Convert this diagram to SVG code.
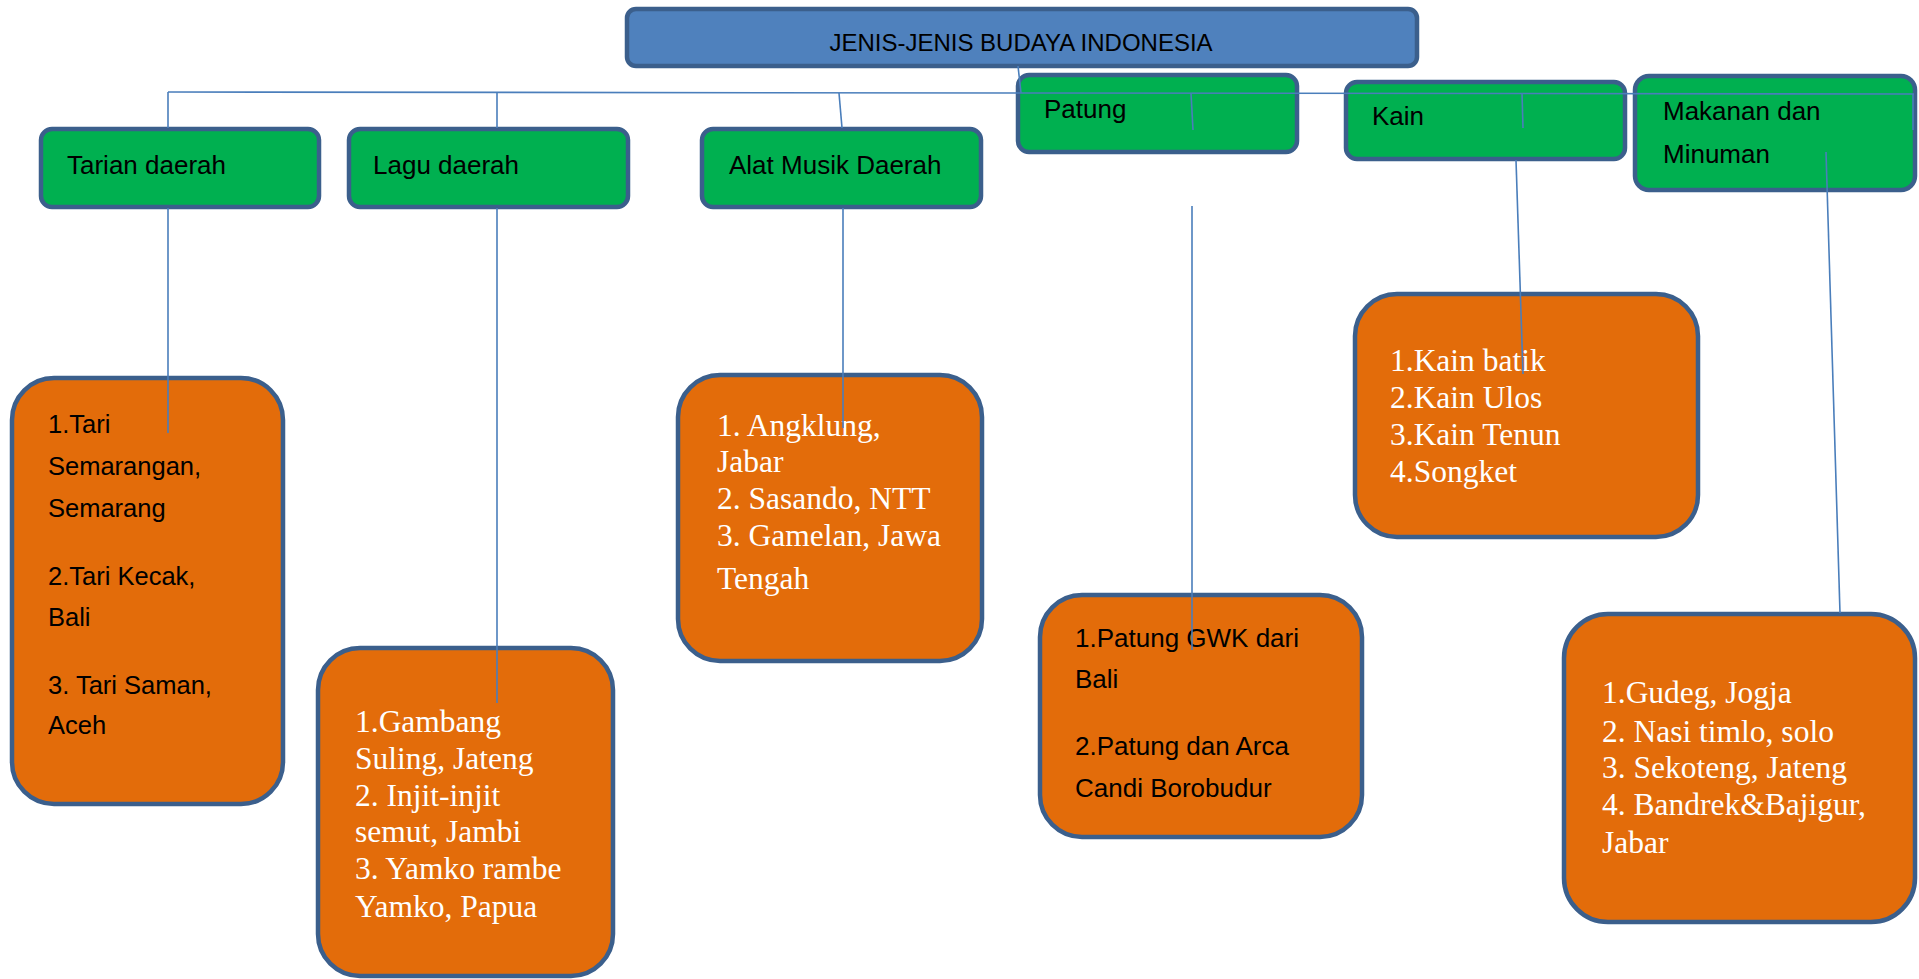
<svg xmlns="http://www.w3.org/2000/svg" width="1919" height="979" viewBox="0 0 1919 979">
<style>
.title{fill:#4F81BD;stroke:#3B5F8C;stroke-width:4.5}
.cat{fill:#00B050;stroke:#3B5F8C;stroke-width:4.5}
.list{fill:#E36C0A;stroke:#3B5F8C;stroke-width:4.5}
.sans{font-family:"Liberation Sans",Arial,sans-serif;fill:#000}
.serif{font-family:"Liberation Serif","Times New Roman",serif;fill:#fff;font-size:31.5px}
.conn line{stroke:#4A7EBB;stroke-width:1.6;fill:none}
</style>
<rect width="1919" height="979" fill="#fff"/>
<g id="root">
<rect class="title" x="627" y="9" width="790" height="57" rx="9"/>
<text class="sans" x="1021" y="51" font-size="24" text-anchor="middle">JENIS-JENIS BUDAYA INDONESIA</text>
</g>
<g id="tarian">
<rect class="cat" x="41" y="129" width="278" height="78" rx="11"/>
<text class="sans" x="67" y="174" font-size="26">Tarian daerah</text>
</g>
<g id="lagu">
<rect class="cat" x="349" y="129" width="279" height="78" rx="11"/>
<text class="sans" x="373" y="174" font-size="26">Lagu daerah</text>
</g>
<g id="alat">
<rect class="cat" x="702" y="129" width="279" height="78" rx="11"/>
<text class="sans" x="729" y="174" font-size="26">Alat Musik Daerah</text>
</g>
<g id="patung">
<rect class="cat" x="1018" y="75" width="279" height="77" rx="11"/>
<text class="sans" x="1044" y="118" font-size="26">Patung</text>
</g>
<g id="kain">
<rect class="cat" x="1346" y="82" width="279" height="77" rx="11"/>
<text class="sans" x="1372" y="125" font-size="26">Kain</text>
</g>
<g id="makanan">
<rect class="cat" x="1635" y="76" width="280" height="114" rx="14"/>
<text class="sans" x="1663" y="120" font-size="26">Makanan dan</text>
<text class="sans" x="1663" y="163" font-size="26">Minuman</text>
</g>
<g id="list-tarian">
<rect class="list" x="12" y="378" width="271" height="426" rx="42"/>
<text class="sans" font-size="25.5"><tspan x="48" y="433">1.Tari</tspan><tspan x="48" y="475">Semarangan,</tspan><tspan x="48" y="517">Semarang</tspan><tspan x="48" y="585">2.Tari Kecak,</tspan><tspan x="48" y="626">Bali</tspan><tspan x="48" y="694">3. Tari Saman,</tspan><tspan x="48" y="734">Aceh</tspan></text>
</g>
<g id="list-lagu">
<rect class="list" x="318" y="648" width="295" height="328" rx="42"/>
<text class="serif"><tspan x="355" y="732">1.Gambang</tspan><tspan x="355" y="769">Suling, Jateng</tspan><tspan x="355" y="806">2. Injit-injit</tspan><tspan x="355" y="842">semut, Jambi</tspan><tspan x="355" y="879">3. Yamko rambe</tspan><tspan x="355" y="917">Yamko, Papua</tspan></text>
</g>
<g id="list-alat">
<rect class="list" x="678" y="375" width="304" height="286" rx="42"/>
<text class="serif"><tspan x="717" y="436">1. Angklung,</tspan><tspan x="717" y="472">Jabar</tspan><tspan x="717" y="509">2. Sasando, NTT</tspan><tspan x="717" y="546">3. Gamelan, Jawa</tspan><tspan x="717" y="589">Tengah</tspan></text>
</g>
<g id="list-patung">
<rect class="list" x="1040" y="595" width="322" height="242" rx="42"/>
<text class="sans" font-size="26"><tspan x="1075" y="647">1.Patung GWK dari</tspan><tspan x="1075" y="688">Bali</tspan><tspan x="1075" y="755">2.Patung dan Arca</tspan><tspan x="1075" y="797">Candi Borobudur</tspan></text>
</g>
<g id="list-kain">
<rect class="list" x="1355" y="294" width="343" height="243" rx="42"/>
<text class="serif"><tspan x="1390" y="371">1.Kain batik</tspan><tspan x="1390" y="408">2.Kain Ulos</tspan><tspan x="1390" y="445">3.Kain Tenun</tspan><tspan x="1390" y="482">4.Songket</tspan></text>
</g>
<g id="list-makanan">
<rect class="list" x="1564" y="614" width="351" height="308" rx="44"/>
<text class="serif"><tspan x="1602" y="703">1.Gudeg, Jogja</tspan><tspan x="1602" y="742">2. Nasi timlo, solo</tspan><tspan x="1602" y="778">3. Sekoteng, Jateng</tspan><tspan x="1602" y="815">4. Bandrek&amp;Bajigur,</tspan><tspan x="1602" y="853">Jabar</tspan></text>
</g>
<g id="connectors" class="conn">
<line x1="168" y1="92" x2="1914" y2="94"/>
<line x1="1018" y1="66" x2="1021" y2="93"/>
<line x1="168" y1="92" x2="168" y2="128"/>
<line x1="168" y1="208" x2="168" y2="433"/>
<line x1="497" y1="92" x2="497" y2="128"/>
<line x1="497" y1="208" x2="497" y2="703"/>
<line x1="839" y1="93" x2="842" y2="128"/>
<line x1="843" y1="208" x2="843" y2="428"/>
<line x1="1191" y1="93" x2="1193" y2="130"/>
<line x1="1192" y1="206" x2="1192" y2="650"/>
<line x1="1522" y1="93" x2="1523" y2="128"/>
<line x1="1516" y1="160" x2="1523" y2="374"/>
<line x1="1913" y1="94" x2="1913" y2="130"/>
<line x1="1826" y1="152" x2="1840" y2="613"/>
</g>
</svg>
